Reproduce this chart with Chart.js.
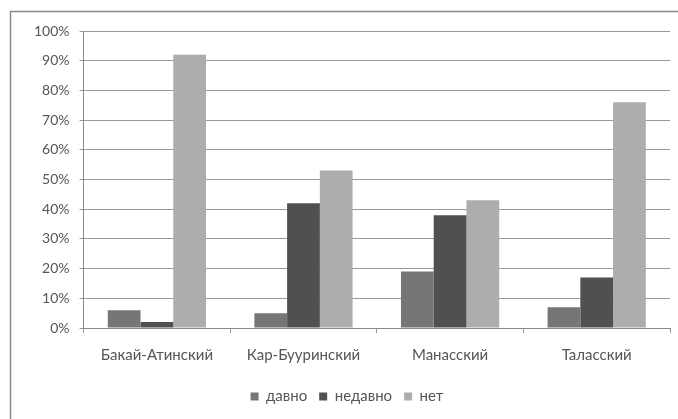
<!DOCTYPE html>
<html>
<head>
<meta charset="utf-8">
<script src="https://cdn.jsdelivr.net/npm/chart.js@4"></script>
<style>
  body { margin: 0; background: #fff; }
  #wrap { width: 678px; height: 419px; }
</style>
</head>
<body>
<div id="wrap"><canvas id="chart"></canvas></div>
<script>
// categories and series (percent)
const regions = ['Бакай-Атинский', 'Кар-Бууринский', 'Манасский', 'Таласский'];
const longAgo = [6, 5, 19, 7];      // давно
const recently = [2, 42, 38, 17];   // недавно
const never = [92, 53, 43, 76];     // нет
const yTicks = [0, 10, 20, 30, 40, 50, 60, 70, 80, 90, 100];

// frame like the scanned Excel chart: only left and top edges visible
const frame = {
  id: 'frame',
  beforeDraw(chart) {
    const c = chart.ctx;
    c.save();
    c.strokeStyle = '#8a8a8a';
    c.lineWidth = 1.5;
    c.beginPath();
    c.moveTo(10.5, 419);
    c.lineTo(10.5, 11.5);
    c.lineTo(678, 11.5);
    c.stroke();
    c.restore();
  }
};

new Chart(document.getElementById('chart'), {
  type: 'bar',
  data: {
    labels: regions,
    datasets: [
      { label: 'давно', data: longAgo, backgroundColor: '#767676' },
      { label: 'недавно', data: recently, backgroundColor: '#505050' },
      { label: 'нет', data: never, backgroundColor: '#adadad' }
    ]
  },
  options: {
    responsive: true,
    maintainAspectRatio: false,
    animation: false,
    layout: { padding: { left: 24, right: 8, top: 31, bottom: 5 } },
    datasets: { bar: { categoryPercentage: 0.67, barPercentage: 1 } },
    plugins: {
      tooltip: { enabled: false },
      legend: {
        position: 'bottom',
        labels: {
          boxWidth: 8,
          boxHeight: 8,
          padding: 12,
          color: '#555',
          font: { family: 'Lato', size: 15 }
        }
      }
    },
    scales: {
      x: {
        grid: { display: true, drawOnChartArea: false, offset: true, tickLength: 5, color: '#999' },
        border: { color: '#888' },
        ticks: { color: '#555', padding: 13, font: { family: 'Lato', size: 15 } }
      },
      y: {
        min: 0,
        max: 100,
        afterBuildTicks(axis) { axis.ticks = yTicks.map(v => ({ value: v })); },
        grid: { color: '#999', tickLength: 4 },
        border: { color: '#888' },
        ticks: {
          color: '#555',
          padding: 10,
          font: { family: 'Lato', size: 14 },
          callback: v => v + '%'
        }
      }
    }
  },
  plugins: [frame]
});
</script>
</body>
</html>
